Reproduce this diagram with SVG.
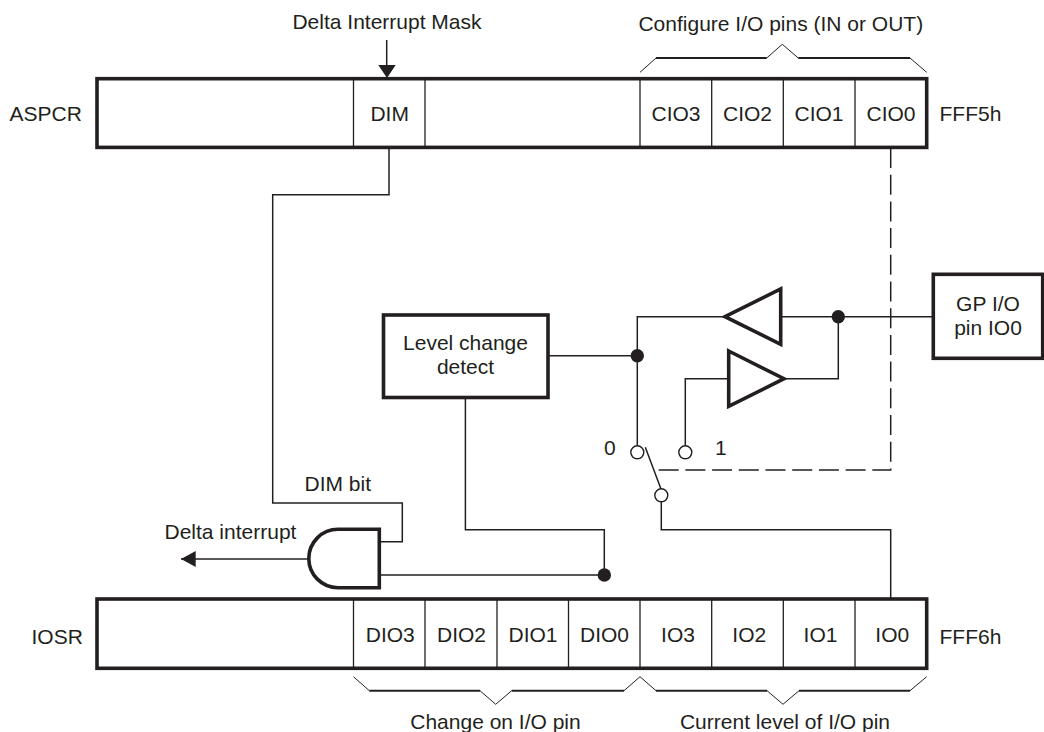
<svg xmlns="http://www.w3.org/2000/svg" width="1044" height="732" viewBox="0 0 1044 732">
<style>
text{font-family:"Liberation Sans",Arial,sans-serif;font-size:21px;fill:#231f20}
.m{text-anchor:middle}
.thick{fill:#fff;stroke:#231f20;stroke-width:3.600}
.cell{fill:none;stroke:#231f20;stroke-width:1.300}
.w{fill:none;stroke:#231f20;stroke-width:1.500}
.d{fill:none;stroke:#231f20;stroke-width:1.500;stroke-dasharray:20 6.700}
.dot{fill:#231f20}
.o{fill:#fff;stroke:#231f20;stroke-width:1.400}
.b1{fill:none;stroke:#231f20;stroke-width:1}
.b2{fill:none;stroke:#231f20;stroke-width:2}
</style>
<g id="connectors">
<path class="w" d="M386.700 66V40M389 147V194.700H272.700V503H402.300V541.700H380"/>
<path class="w" d="M380 575H604.300M465.400 397V529.700H604.300V575"/>
<path class="w" d="M181 559H309"/>
<path class="d" d="M890.700 148V470H656.700"/>
<path class="w" d="M548 355.700H637.300M725 316.700H637.300V446M778 316.700H933M838.300 316.700V378.700H784M729 378.700H685.300V446"/>
<path class="w" d="M645.300 447.300L661 489M661.300 502V529.700H890.700V599"/>
<path class="dot" d="M378.300 65H395.700L387 78ZM181 559L195.700 551V567Z"/>
</g>
<g id="aspcr">
<rect class="thick" x="97" y="78.700" width="829.700" height="68.700"/>
<path class="cell" d="M353.500 79V147M425 79V147M640 79V147M711.700 79V147M783.300 79V147M855 79V147"/>
<text x="9.500" y="121">ASPCR</text>
<text class="m" x="389.700" y="121">DIM</text>
<text class="m" x="676" y="121">CIO3</text>
<text class="m" x="747.500" y="121">CIO2</text>
<text class="m" x="819" y="121">CIO1</text>
<text class="m" x="891" y="121">CIO0</text>
<text x="939.500" y="121">FFF5h</text>
<text class="m" x="387" y="28.500">Delta Interrupt Mask</text>
</g>
<g id="brace-configure">
<path class="b1" d="M640 72.300L656 58M766.700 58L782.300 44.300L798.300 58M910 58L926.700 72.300"/>
<path class="b2" d="M656 58H766.700M798.300 58H910"/>
<text class="m" x="780.800" y="30.500">Configure I/O pins (IN or OUT)</text>
</g>
<g id="level-change">
<rect class="thick" x="383.500" y="315" width="164.500" height="82.500"/>
<text class="m" x="465.500" y="350">Level change</text>
<text class="m" x="465.500" y="374.300">detect</text>
</g>
<g id="gpio">
<rect class="thick" x="933.300" y="274.300" width="109.400" height="84"/>
<text class="m" x="988" y="310.700">GP I/O</text>
<text class="m" x="988" y="335">pin IO0</text>
</g>
<g id="buffers">
<path class="thick" d="M725 316.700L780.700 289V344.300Z"/>
<path class="thick" d="M728.700 351L784 378.700L728.700 406.300Z"/>
<circle class="dot" cx="838.300" cy="316.700" r="6.700"/>
<circle class="dot" cx="637.300" cy="355.700" r="6.700"/>
</g>
<g id="switch">
<circle class="o" cx="637.300" cy="452.300" r="6.500"/>
<circle class="o" cx="685.300" cy="452.300" r="6.500"/>
<circle class="o" cx="661.300" cy="495.300" r="6.500"/>
<text x="604" y="455">0</text>
<text x="715" y="455">1</text>
</g>
<g id="and-gate">
<path class="thick" d="M379.300 529.300V587.700H338A29.200 29.200 0 0 1 338 529.300Z"/>
<circle class="dot" cx="604.300" cy="575" r="6.700"/>
<text x="164.500" y="539.300">Delta interrupt</text>
<text x="304.500" y="490.700">DIM bit</text>
</g>
<g id="iosr">
<rect class="thick" x="97" y="599" width="829.700" height="69.300"/>
<path class="cell" d="M353.500 600V668M425 600V668M497 600V668M568.500 600V668M640 600V668M711.700 600V668M783.300 600V668M855 600V668"/>
<text x="31.500" y="643.500">IOSR</text>
<text class="m" x="390.300" y="642.300">DIO3</text>
<text class="m" x="461.500" y="642.300">DIO2</text>
<text class="m" x="533" y="642.300">DIO1</text>
<text class="m" x="604.500" y="642.300">DIO0</text>
<text class="m" x="678" y="642.300">IO3</text>
<text class="m" x="749.300" y="642.300">IO2</text>
<text class="m" x="820.500" y="642.300">IO1</text>
<text class="m" x="892.300" y="642.300">IO0</text>
<text x="939.500" y="643.500">FFF6h</text>
</g>
<g id="brace-bottom">
<path class="b1" d="M353.500 676.700L369.300 690.700M480 690.700L495.700 704.300L511.700 690.700M624 690.700L640 676.700L656 690.700M767 690.700L783 704.300L799 690.700M910 690.700L926.700 676.700"/>
<path class="b2" d="M369.300 690.700H480M511.700 690.700H624M656 690.700H767M799 690.700H910"/>
<text class="m" x="495.500" y="728.500">Change on I/O pin</text>
<text class="m" x="785" y="728.500">Current level of I/O pin</text>
</g>
</svg>
